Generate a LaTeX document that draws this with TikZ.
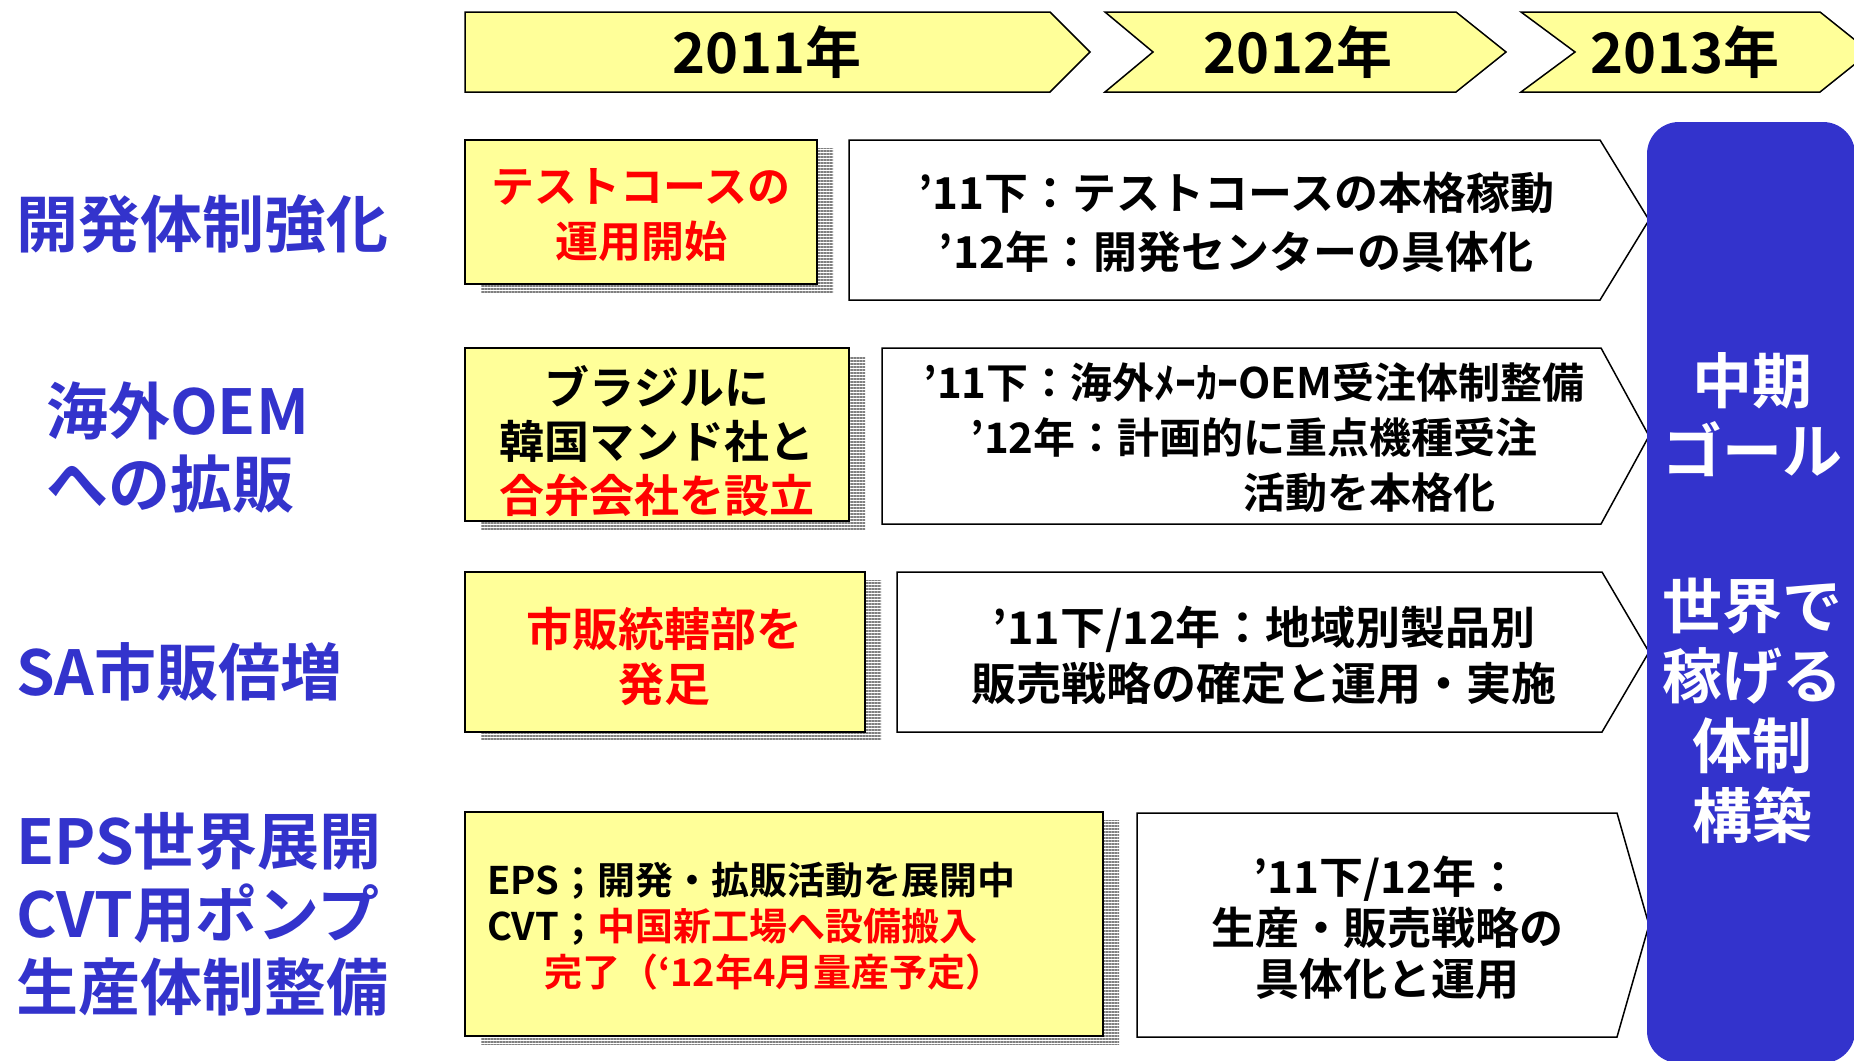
\documentclass[tikz,border=0pt]{standalone}
\usepackage{fontspec}
\setmainfont{Noto Sans CJK JP Bold}
\usepackage{tikz}
\usetikzlibrary{positioning}
\usetikzlibrary{patterns.meta}
\usepackage{xcolor}
\definecolor{paleyellow}{RGB}{255,255,153}
\definecolor{goalblue}{RGB}{51,51,204}
\definecolor{planred}{RGB}{255,0,0}
\newcommand{\fsz}[2]{\fontsize{#1}{#2}\selectfont}

\begin{document}
\begin{tikzpicture}[x=1pt,y=-1pt,
  yearbox/.style={fill=paleyellow,draw=black,line width=1.5pt},
  planbox/.style={fill=paleyellow,draw=black,line width=2pt},
  stripes/.style={pattern={Lines[angle=0,distance=3pt,line width=2pt]},pattern color=gray},
  actbox/.style={fill=white,draw=black,line width=1.5pt},
  rowlabel/.style={anchor=west,inner sep=0pt,text=goalblue,align=left,font=\fsz{62}{73}},
  yeartext/.style={inner sep=0pt,font=\fsz{56}{60}}]
\useasboundingbox (0,0) rectangle (1854,1060);
\clip (0,0) rectangle (1854,1060);

\draw[yearbox] (465,12)--++(585,0)--++(40,40)--++(-40,40)--++(-585,0)--cycle;
\draw[yearbox] (1105,12)--++(351,0)--++(50,40)--++(-50,40)--++(-351,0)--++(48,-40)--cycle;
\draw[yearbox] (1521,12)--++(299,0)--++(50,40)--++(-50,40)--++(-299,0)--++(54,-40)--cycle;
\node (y11) at (767,52) [yeartext] {2011年};
\node (y12) at (1298,52) [yeartext] {2012年};
\node (y13) at (1685,52) [yeartext] {2013年};

\node (dev) at (16,224) [rowlabel] {開発体制強化};
\node (oem) at (46,448) [rowlabel] {海外OEM\\への拡販};
\node (sa) at (16,672) [rowlabel] {SA市販倍増};
\node (eps) at (16,914) [rowlabel] {EPS世界展開\\CVT用ポンプ\\生産体制整備};

\fill[stripes] (481,148) rectangle ++(352,144);
\draw[planbox] (465,140) rectangle (817,284);
\node (course) at (641,215) [align=center,text=planred,font=\fsz{43}{55}] {テストコースの\\運用開始};
\draw[actbox] (849,140)--++(751,0)--++(49,80)--++(-49,80)--++(-751,0)--cycle;
\node (devplan) at (1236,222) [align=center,font=\fsz{44}{59}] {’11下：テストコースの本格稼動\\’12年：開発センターの具体化};

\fill[stripes] (481,356) rectangle ++(384,173);
\draw[planbox] (465,348) rectangle (849,521);
\node (jv) at (657,441) [align=center,font=\fsz{45}{54}] {ブラジルに\\韓国マンド社と\\\textcolor{planred}{合弁会社を設立}};
\draw[actbox] (882,348)--++(719,0)--++(48,88)--++(-48,88)--++(-719,0)--cycle;
\node (oemplan) at (1254,438) [align=center,font=\fsz{42}{55}] {’11下：海外ﾒｰｶｰOEM受注体制整備\\’12年：計画的に重点機種受注\\\hspace*{5.5em}活動を本格化};

\fill[stripes] (481,580) rectangle ++(400,160);
\draw[planbox] (465,572) rectangle (865,732);
\node (dept) at (664,657) [align=center,text=planred,font=\fsz{46}{55}] {市販統轄部を\\発足};
\draw[actbox] (897,572)--++(705,0)--++(47,80)--++(-47,80)--++(-705,0)--cycle;
\node (saplan) at (1264,655) [align=center,font=\fsz{45}{56}] {’11下/12年：地域別製品別\\販売戦略の確定と運用・実施};

\fill[stripes] (481,820) rectangle ++(638,224);
\draw[planbox] (465,812) rectangle (1103,1036);
\node (cvt) at (487,926) [anchor=west,inner sep=0pt,align=left,font=\fsz{38}{46}] {EPS；開発・拡販活動を展開中\\CVT；\textcolor{planred}{中国新工場へ設備搬入}\\\hspace*{1.5em}\textcolor{planred}{完了（‘12年4月量産予定）}};
\draw[actbox] (1137,813)--++(480,0)--++(32,112)--++(-32,112)--++(-480,0)--cycle;
\node (epsplan) at (1387,928) [align=center,font=\fsz{44}{51}] {’11下/12年：\\生産・販売戦略の\\具体化と運用};

\fill[goalblue,rounded corners=32pt] (1647,122) rectangle (1855,1063);
\node (goal) at (1752,415) [align=center,text=white,font=\fsz{60}{70}] {中期\\ゴール};
\node (world) at (1752,711) [align=center,text=white,font=\fsz{60}{70}] {世界で\\稼げる\\体制\\構築};
\end{tikzpicture}
\end{document}
